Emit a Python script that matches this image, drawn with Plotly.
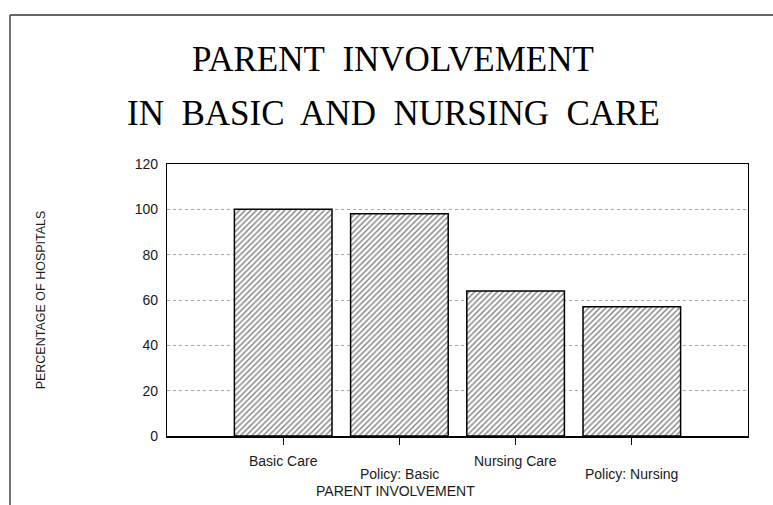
import plotly.graph_objects as go

categories = ["Basic Care", "Policy: Basic", "Nursing Care", "Policy: Nursing"]
values = [100, 98, 64, 57]
y_ticks = [0, 20, 40, 60, 80, 100, 120]
title_lines = ["PARENT INVOLVEMENT", "IN BASIC AND NURSING CARE"]
x_title = "PARENT INVOLVEMENT"
y_title = "PERCENTAGE OF HOSPITALS"

W, H = 773, 505
ML, MR, MT, MB = 167, 25, 164, 69
PW, PH = W - ML - MR, H - MT - MB

def px_to_paper_x(px):
    return (px - ML) / PW

def px_to_paper_y(py):
    return (H - MB - py) / PH

label_font = dict(family="Liberation Sans, Arial, sans-serif", size=14, color="#1a1a1a")
ytitle_font = dict(family="Liberation Sans, Arial, sans-serif", size=12.5, color="#1a1a1a")

xs = list(range(len(categories)))

fig = go.Figure()
fig.add_trace(go.Bar(
    x=xs, y=values,
    width=0.84,
    marker=dict(
        color="white",
        line=dict(color="black", width=1.5),
        pattern=dict(shape="/", size=4, solidity=0.35, fgcolor="black", bgcolor="white"),
    ),
    showlegend=False,
    hoverinfo="skip",
))

annotations = []
# staggered category labels
for i, c in enumerate(categories):
    annotations.append(dict(
        x=i, xref="x", y=0, yref="y",
        text=c, showarrow=False, font=label_font,
        xanchor="center", yanchor="middle",
        yshift=-(25 if i % 2 == 0 else 38),
    ))
# x-axis title
annotations.append(dict(
    x=0.97, xref="x", y=px_to_paper_y(491), yref="paper",
    text=x_title, showarrow=False, font=label_font,
    xanchor="center", yanchor="middle",
))
# two-line title (wide word spacing as in the original)
for line, py in zip(title_lines, [59, 113]):
    annotations.append(dict(
        x=px_to_paper_x(393), xref="paper", y=px_to_paper_y(py), yref="paper",
        text=line.replace(" ", "&nbsp; "), showarrow=False,
        font=dict(family="Liberation Serif, Times New Roman, serif", size=35, color="black"),
        xanchor="center", yanchor="middle",
    ))

shapes = [
    dict(type="line", xref="paper", yref="paper",
         x0=px_to_paper_x(10), x1=px_to_paper_x(W), y0=px_to_paper_y(15), y1=px_to_paper_y(15),
         line=dict(color="#333", width=1.5)),
    dict(type="line", xref="paper", yref="paper",
         x0=px_to_paper_x(10), x1=px_to_paper_x(10), y0=px_to_paper_y(15), y1=px_to_paper_y(H),
         line=dict(color="#444", width=1.5)),
]

fig.update_layout(
    width=W, height=H,
    margin=dict(l=ML, r=MR, t=MT, b=MB, pad=0),
    paper_bgcolor="white", plot_bgcolor="white",
    annotations=annotations,
    shapes=shapes,
    hovermode=False,
    xaxis=dict(
        range=[-1, 4],
        tickmode="array", tickvals=xs, ticktext=["" for _ in xs],
        ticks="outside", ticklen=7, tickcolor="black", tickwidth=1,
        showline=True, linecolor="black", linewidth=1.5, mirror=True,
        showgrid=False, zeroline=False, fixedrange=True,
    ),
    yaxis=dict(
        range=[0, 120],
        tickmode="array", tickvals=y_ticks,
        ticks="", tickfont=label_font, ticklabelstandoff=5,
        showline=True, linecolor="black", linewidth=1.2, mirror=True,
        showgrid=True, gridcolor="#aaa", griddash="dot", gridwidth=1,
        zeroline=False, fixedrange=True,
        title=dict(text=y_title, font=ytitle_font, standoff=86),
    ),
)

fig.write_html(
    "out.html",
    config={"displayModeBar": False, "staticPlot": True},
    post_script="document.body.style.margin='0';document.body.style.padding='0';",
)
